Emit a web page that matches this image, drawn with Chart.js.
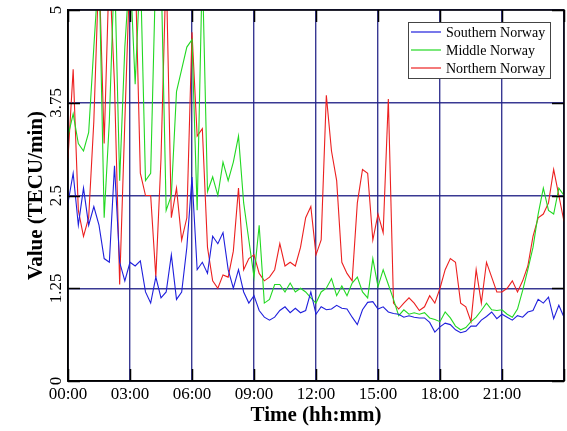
<!DOCTYPE html>
<html>
<head>
<meta charset="utf-8">
<script src="https://cdn.jsdelivr.net/npm/chart.js@4"></script>
<style>
  html, body { margin: 0; padding: 0; background: #fff; }
</style>
</head>
<body>
<canvas id="chart" width="567" height="431"></canvas>
<script>
// 15-minute samples, 00:00 .. 24:00
const stepHours = 0.25;
const seriesNames = ["Southern Norway", "Middle Norway", "Northern Norway"];
const seriesColors = ["#1f1fdc", "#22d822", "#ec2020"];
const hourTicks = [0, 3, 6, 9, 12, 15, 18, 21, 24];
const yTicks = [0, 1.25, 2.5, 3.75, 5];

const southern = [
  2.4, 2.8, 2.1, 2.6, 2.1, 2.35, 2.1, 1.65, 1.6, 2.9, 1.6, 1.35,
  1.6, 1.55, 1.62, 1.2, 1.05, 1.4, 1.12, 1.2, 1.7, 1.1, 1.2, 1.8,
  2.75, 1.5, 1.6, 1.45, 1.95, 1.85, 2.0, 1.5, 1.25, 1.5, 1.2, 1.05,
  1.15, 0.95, 0.86, 0.82, 0.86, 0.95, 1.0, 0.92, 0.98, 0.92, 0.95, 1.2,
  0.9, 1.0, 0.96, 0.97, 1.02, 0.98, 0.97, 0.86, 0.76, 0.96, 1.06, 1.07,
  0.97, 1.0, 0.93, 0.91, 0.9, 0.86, 0.88, 0.86, 0.85, 0.85, 0.79, 0.66,
  0.73, 0.78, 0.76, 0.69, 0.65, 0.67, 0.74, 0.74, 0.82, 0.87, 0.93, 0.84,
  0.9, 0.86, 0.82, 0.88, 0.86, 0.93, 0.95, 1.1, 1.05, 1.13, 0.84, 1.02,
  0.86
];
const middle = [
  3.3, 3.6, 3.2, 3.1, 3.35, 4.5, 5.6, 2.2, 3.5, 5.6, 2.7, 4.5,
  5.6, 4.0, 5.6, 2.7, 2.8, 5.6, 5.6, 2.3, 2.5, 3.9, 4.2, 4.5,
  4.6, 2.3, 5.6, 2.55, 2.75, 2.5, 2.95, 2.7, 2.95, 3.3, 2.4, 1.9,
  1.4, 2.1, 1.05, 1.1, 1.3, 1.3, 1.2, 1.32, 1.2, 1.25, 1.2, 1.12,
  1.05, 1.2, 1.25, 1.38, 1.15, 1.28, 1.15, 1.32, 1.4, 1.2, 1.12, 1.65,
  1.27, 1.5, 1.3, 1.1, 0.88, 0.96, 0.9, 0.92, 0.9, 0.92, 0.85, 0.83,
  0.8, 0.93, 0.85, 0.74, 0.69, 0.72, 0.8, 0.86, 0.95, 1.05, 0.96, 0.95,
  0.96, 0.9, 0.86, 0.97, 1.22, 1.5, 1.8, 2.25, 2.6, 2.3, 2.25, 2.6,
  2.5
];
const northern = [
  3.0, 4.2, 2.3, 1.95, 2.2, 3.5, 5.6, 3.2, 5.6, 4.0, 1.3, 3.5,
  5.6, 5.6, 2.8, 2.5, 2.5, 1.4, 3.0, 5.6, 2.2, 2.6, 1.9, 2.2,
  4.7, 3.3, 3.4, 1.8, 1.35, 1.25, 1.43, 1.4, 1.75, 2.6, 1.5, 1.65,
  1.7, 1.45, 1.35, 1.4, 1.5, 1.85, 1.55, 1.6, 1.55, 1.8, 2.2, 2.35,
  1.7, 1.9, 3.85, 3.1, 2.7, 1.6, 1.45, 1.35, 2.4, 2.85, 2.8, 1.9,
  2.25, 2.0, 3.8, 1.05, 0.97, 1.05, 1.12, 1.05, 0.95, 1.0, 1.15, 1.05,
  1.25, 1.5, 1.65, 1.6, 1.05, 1.0, 0.8, 1.5, 1.05, 1.6, 1.4, 1.2,
  1.2, 1.25, 1.35, 1.2, 1.35, 1.55, 1.95, 2.2, 2.25, 2.4, 2.85, 2.5,
  2.15
];

const serif = "'Liberation Serif', 'Times New Roman', serif";
const gridColor = "rgba(35,35,135,0.9)";

function toPoints(vals) {
  return vals.map((v, i) => ({ x: i * stepHours, y: v }));
}
function hhmm(v) {
  const h = Math.floor(v);
  return (h < 10 ? "0" : "") + h + ":00";
}

const framePlugin = {
  id: "frame",
  afterDatasetsDraw(chart) {
    const { ctx, chartArea: a, scales } = chart;
    ctx.save();
    ctx.strokeStyle = "#000";
    ctx.lineWidth = 1.5;
    ctx.strokeRect(a.left, a.top, a.right - a.left, a.bottom - a.top);
    ctx.beginPath();
    hourTicks.forEach(v => {
      const px = Math.round(scales.x.getPixelForValue(v)) + 0.5;
      ctx.moveTo(px, a.bottom); ctx.lineTo(px, a.bottom - 12);
      ctx.moveTo(px, a.top); ctx.lineTo(px, a.top + 12);
    });
    yTicks.forEach(v => {
      const py = Math.round(scales.y.getPixelForValue(v)) + 0.5;
      ctx.moveTo(a.left, py); ctx.lineTo(a.left + 12, py);
      ctx.moveTo(a.right, py); ctx.lineTo(a.right - 12, py);
    });
    ctx.stroke();

    // legend box in the top right corner
    const bx = a.right - 156, by = a.top + 12, bw = 142, bh = 56;
    ctx.fillStyle = "#fff";
    ctx.fillRect(bx, by, bw, bh);
    ctx.lineWidth = 1;
    ctx.strokeStyle = "#444";
    ctx.strokeRect(bx + 0.5, by + 0.5, bw, bh);
    ctx.font = "14px " + serif;
    ctx.textBaseline = "middle";
    ctx.fillStyle = "#000";
    chart.data.datasets.forEach((ds, i) => {
      const ry = by + 10 + i * 18;
      ctx.strokeStyle = ds.borderColor;
      ctx.lineWidth = 1.2;
      ctx.beginPath();
      ctx.moveTo(bx + 3, ry); ctx.lineTo(bx + 33, ry);
      ctx.stroke();
      ctx.fillText(ds.label, bx + 38, ry + 1);
    });
    ctx.restore();
  }
};

new Chart(document.getElementById("chart"), {
  type: "line",
  data: {
    datasets: [southern, middle, northern].map((vals, i) => ({
      label: seriesNames[i],
      data: toPoints(vals),
      borderColor: seriesColors[i],
      borderWidth: 1.1,
      pointRadius: 0,
      tension: 0
    }))
  },
  options: {
    responsive: false,
    animation: false,
    layout: { padding: { top: 10, right: 1, left: 0, bottom: 0 } },
    plugins: { legend: { display: false }, tooltip: { enabled: false } },
    scales: {
      x: {
        type: "linear", min: 0, max: 24,
        afterFit: s => { s.height = 50; },
        afterBuildTicks: s => { s.ticks = hourTicks.map(v => ({ value: v })); },
        ticks: {
          autoSkip: false, maxRotation: 0, padding: 3, color: "#000",
          font: { family: serif, size: 17 },
          callback: v => v >= 24 ? "" : hhmm(v)
        },
        grid: { drawTicks: false, color: gridColor, lineWidth: 1.4 },
        border: { color: "#000", width: 1.5 },
        title: {
          display: true, text: "Time (hh:mm)", color: "#000",
          font: { family: serif, size: 21, weight: "bold" },
          padding: { top: 0, bottom: 3 }
        }
      },
      y: {
        min: 0, max: 5,
        afterFit: s => { s.width = 68; },
        afterBuildTicks: s => { s.ticks = yTicks.map(v => ({ value: v })); },
        ticks: {
          minRotation: 90, maxRotation: 90, crossAlign: "center", padding: -3,
          color: "#000", font: { family: serif, size: 17 },
          callback: v => String(v)
        },
        grid: { drawTicks: false, color: gridColor, lineWidth: 1.4 },
        border: { color: "#000", width: 1.5 },
        title: {
          display: true, text: "Value (TECU/min)", color: "#000",
          font: { family: serif, size: 21, weight: "bold" },
          padding: { top: 24, bottom: 0 }
        }
      }
    }
  },
  plugins: [framePlugin]
});
</script>
</body>
</html>
